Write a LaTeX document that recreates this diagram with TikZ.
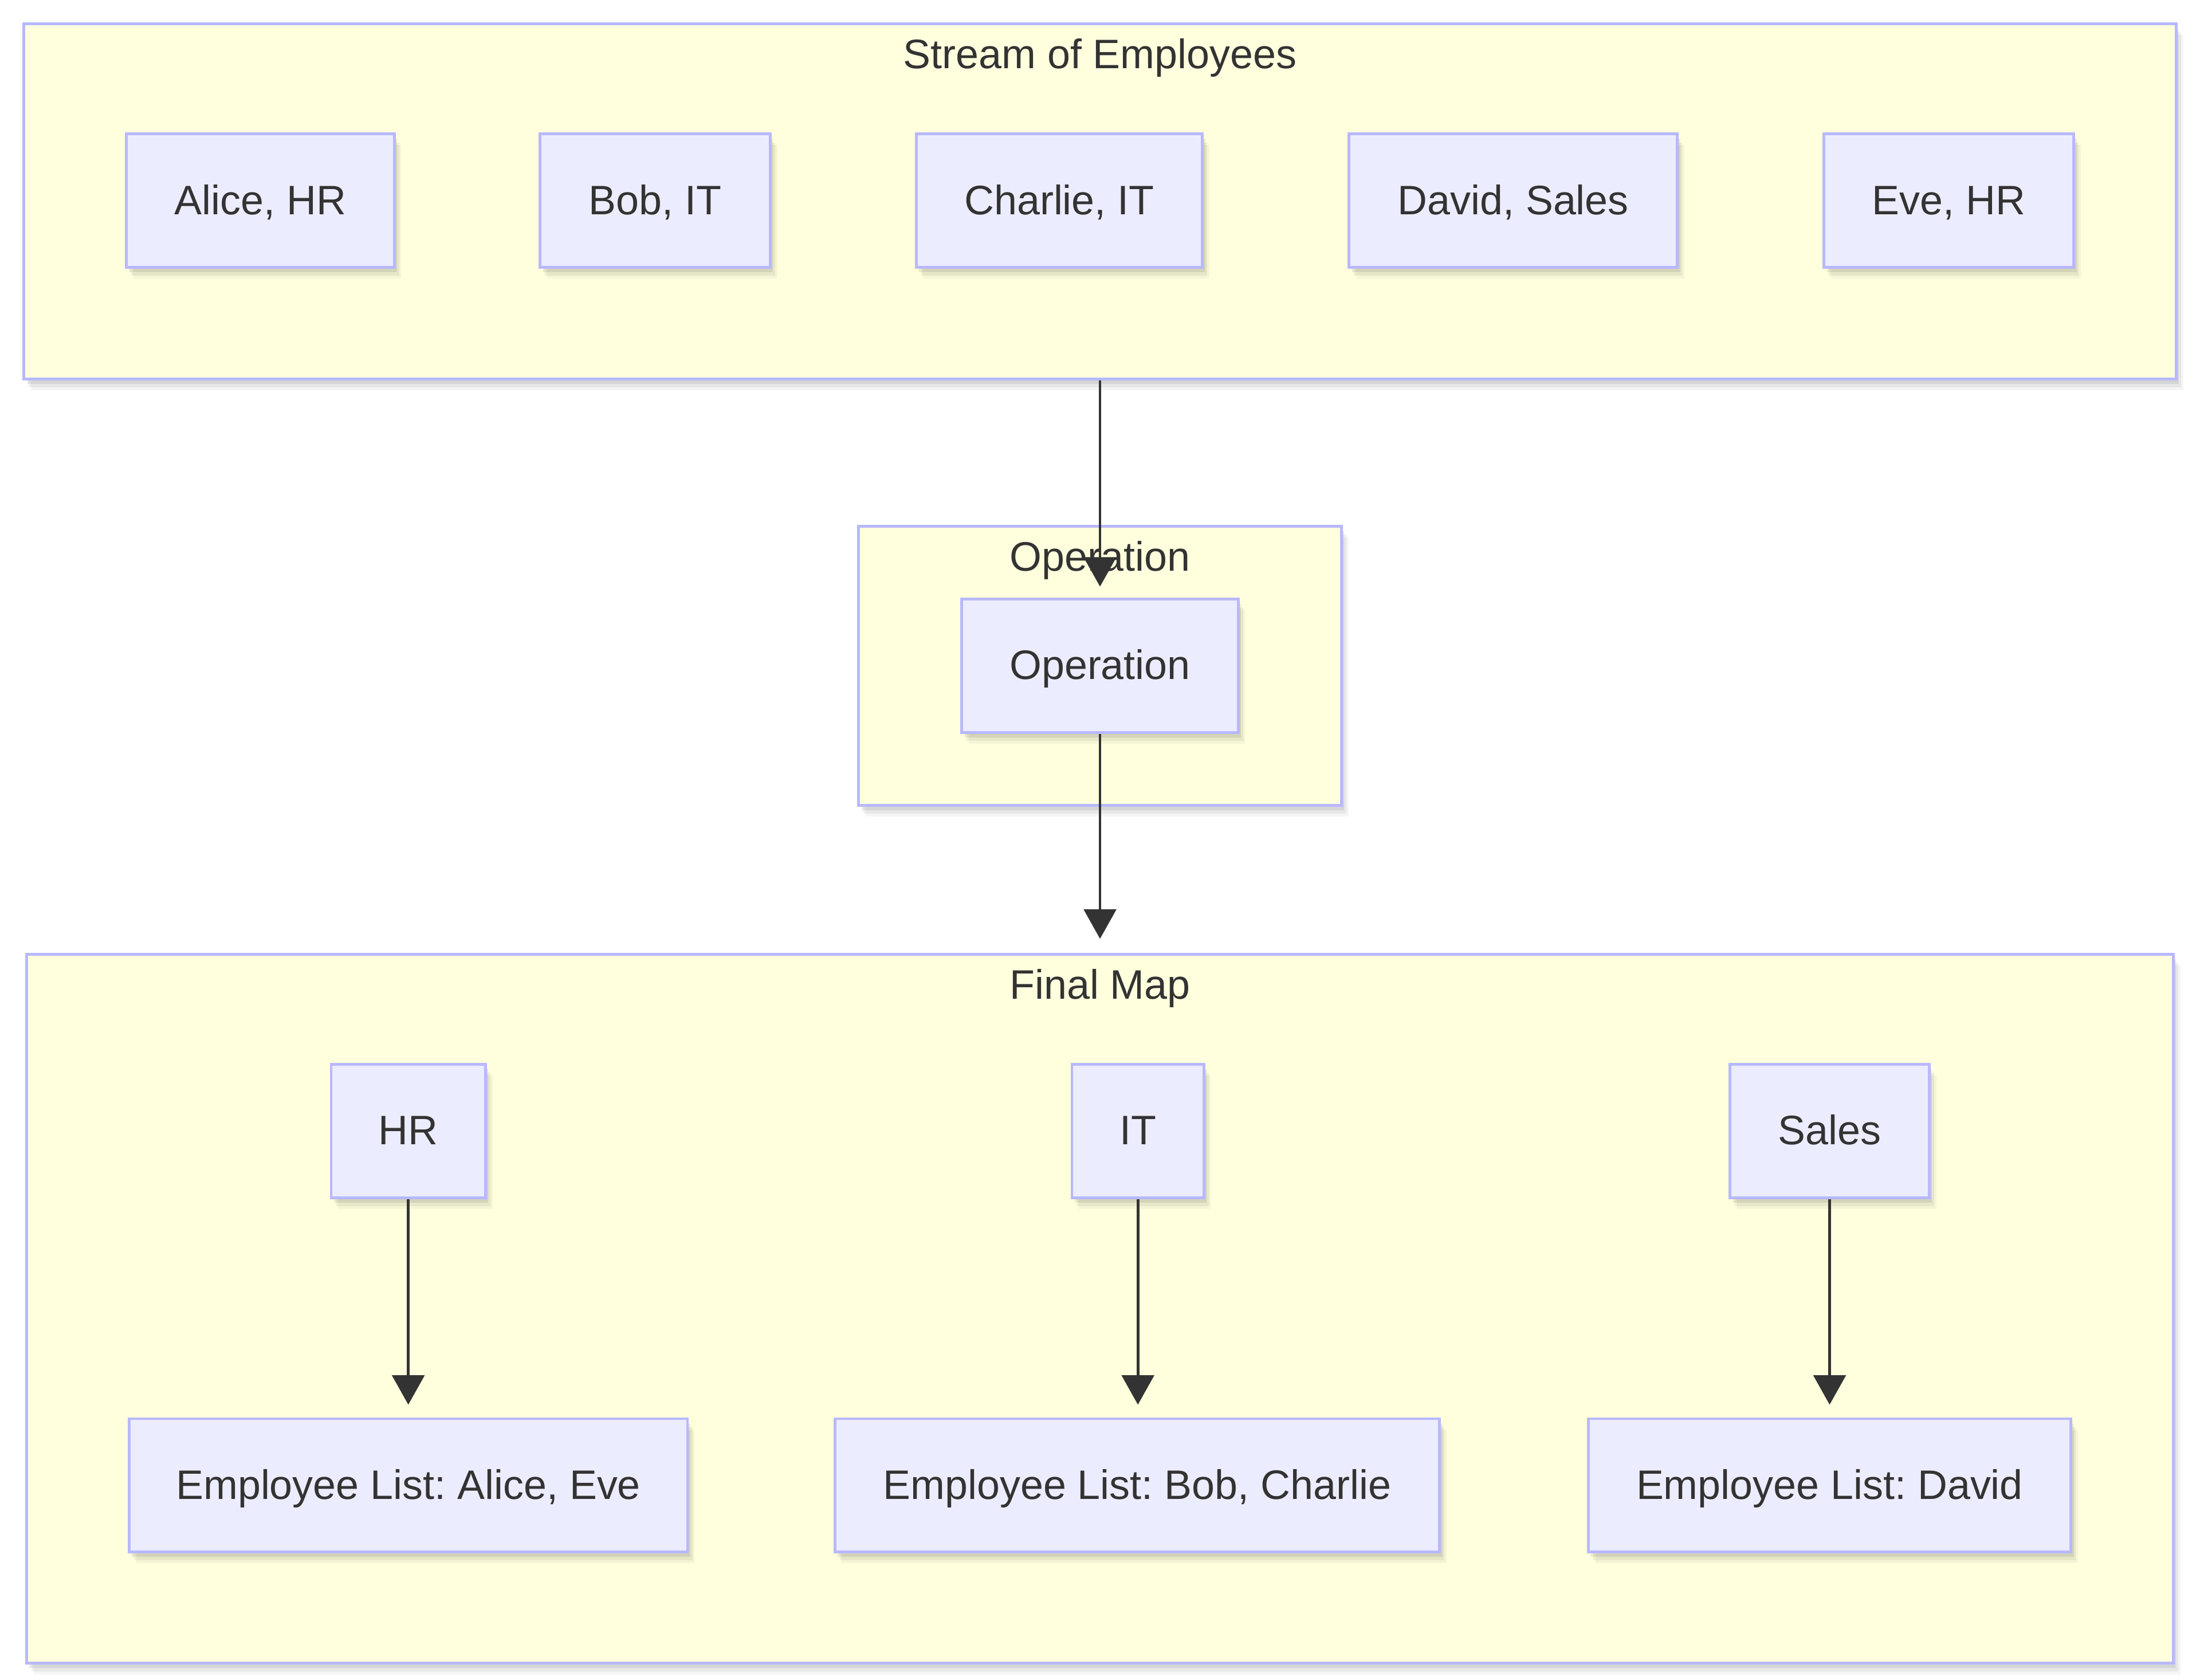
\documentclass[tikz,border=0pt]{standalone}
\usepackage{fontspec}
\setmainfont{Liberation Sans}
\usepackage{tikz}
\usepackage{xcolor}
\usetikzlibrary{arrows.meta,shadows}
\definecolor{mapYellow}{RGB}{255,255,222}
\definecolor{mapLavender}{RGB}{236,236,255}
\definecolor{mapBorder}{RGB}{184,184,255}
\definecolor{mapText}{RGB}{51,51,51}
\frenchspacing

\begin{document}
\begin{tikzpicture}[
    x=0.02cm, y=-0.02cm,
    lift/.style={drop shadow={shadow xshift=0.1cm, shadow yshift=-0.16cm, opacity=0.04, fill=black},
                 drop shadow={shadow xshift=0.07cm, shadow yshift=-0.12cm, opacity=0.06, fill=black},
                 drop shadow={shadow xshift=0.04cm, shadow yshift=-0.07cm, opacity=0.08, fill=black}},
    cluster/.style={rectangle, draw=mapBorder, fill=mapYellow, line width=0.04cm, lift},
    label/.style={text=mapText, font=\fontsize{16.7pt}{20pt}\selectfont, text height=0.44cm, text depth=0.05cm},
    box/.style={rectangle, draw=mapBorder, fill=mapLavender, line width=0.04cm, minimum height=1.9cm, label, lift},
    wd/.style={minimum width=#1*0.02cm},
    ht/.style={minimum height=#1*0.02cm},
    flow/.style={-{Triangle[length=0.42cm,width=0.46cm]}, draw=mapText, line width=0.04cm}
]
\useasboundingbox (0,0) rectangle (1568,1197);

% Clusters (background)
\node[cluster, wd=1534, ht=253] (stream) at (784,143.5) {};
\node[cluster, wd=344, ht=199] (opbox) at (784,474.5) {};
\node[cluster, wd=1530, ht=505] (finalmap) at (784,932.5) {};

% Cluster titles
\node[label] (streamtitle) at (784,39) {Stream of Employees};
\node[label] (optitle) at (784,397) {Operation};
\node[label] (maptitle) at (784,702) {Final Map};

% Stream of employees (top row)
\node[box, wd=191] (alice) at (185.5,143) {Alice, HR};
\node[box, wd=164] (bob) at (467,143) {Bob, IT};
\node[box, wd=204] (charlie) at (755,143) {Charlie, IT};
\node[box, wd=234] (david) at (1078.5,143) {David, Sales};
\node[box, wd=178] (eve) at (1389,143) {Eve, HR};

% Operation (middle)
\node[box, wd=197] (operation) at (784,474.5) {Operation};

% Final map keys
\node[box, wd=110] (hr) at (291,806) {HR};
\node[box, wd=94] (it) at (811,806) {IT};
\node[box, wd=142] (sales) at (1304,806) {Sales};

% Final map values
\node[box, wd=398] (hrlist) at (291,1058.5) {Employee List: Alice, Eve};
\node[box, wd=431] (itlist) at (810.5,1058.5) {Employee List: Bob, Charlie};
\node[box, wd=344] (saleslist) at (1304,1058.5) {Employee List: David};

% Main flow
\draw[flow, shorten >=0.16cm] (stream) -- (operation);
\draw[flow, shorten >=0.2cm] (operation) -- (finalmap.north);

% Key to list
\draw[flow, shorten >=0.18cm] (hr) -- (hrlist);
\draw[flow, shorten >=0.18cm] (it) -- (it |- itlist.north);
\draw[flow, shorten >=0.18cm] (sales) -- (saleslist);

\end{tikzpicture}
\end{document}
